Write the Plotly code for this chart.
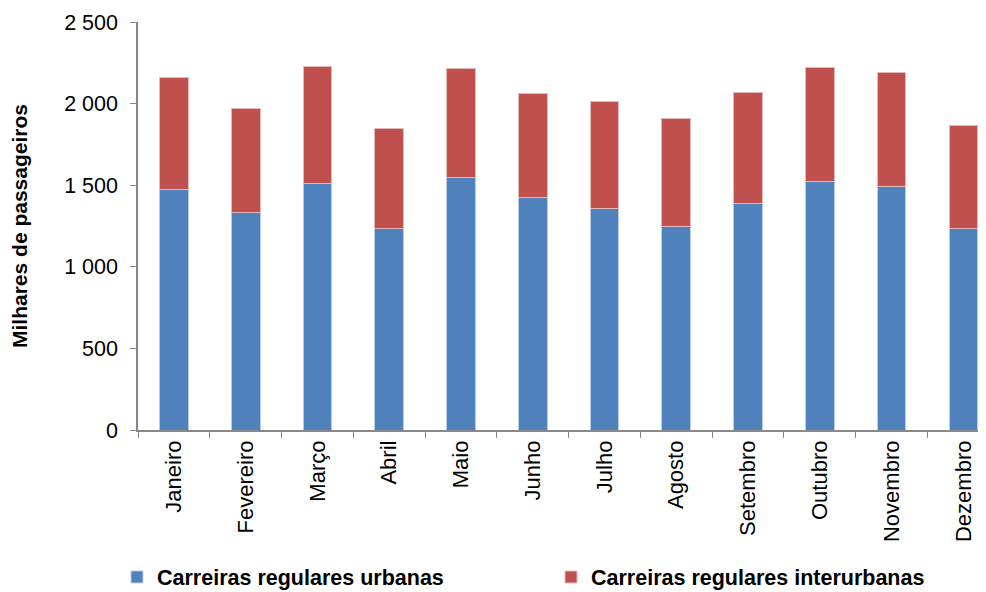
import plotly.graph_objects as go

months = ["Janeiro", "Fevereiro", "Março", "Abril", "Maio", "Junho", "Julho",
          "Agosto", "Setembro", "Outubro", "Novembro", "Dezembro"]
urbanas = [1473, 1332, 1510, 1232, 1547, 1426, 1357, 1248, 1385, 1524, 1491, 1234]
interurbanas = [684, 641, 719, 615, 671, 635, 657, 662, 682, 700, 697, 633]
y_ticks = [0, 500, 1000, 1500, 2000, 2500]

FONT = "Liberation Sans, Arial, sans-serif"
W, H = 978, 584  # page body adds an 8px offset in the 986x592 window

fig = go.Figure()
fig.add_trace(go.Bar(x=months, y=urbanas, name="Carreiras regulares urbanas",
                     marker=dict(color="#4F81BD", line=dict(color="#B9CDE5", width=1)),
                     legend="legend"))
fig.add_trace(go.Bar(x=months, y=interurbanas, name="Carreiras regulares interurbanas",
                     marker=dict(color="#C0504D", line=dict(color="#E6B9B8", width=1)),
                     legend="legend2"))

leg_font = dict(family=FONT, size=21.5, color="black", weight="bold")
leg_y = (H - 569) / H
fig.update_layout(
    barmode="stack",
    bargap=0.6,
    width=W, height=H,
    margin=dict(l=130, r=0, t=14, b=162, autoexpand=False),
    paper_bgcolor="white", plot_bgcolor="white",
    separators=", ",
    font=dict(family=FONT, size=21, color="black"),
    showlegend=True,
    legend=dict(orientation="h", xref="container", yref="container",
                x=109 / W, y=leg_y, xanchor="left", yanchor="middle",
                font=leg_font, itemwidth=30, bgcolor="rgba(0,0,0,0)"),
    legend2=dict(orientation="h", xref="container", yref="container",
                 x=543 / W, y=leg_y, xanchor="left", yanchor="middle",
                 font=leg_font, itemwidth=30, bgcolor="rgba(0,0,0,0)"),
    xaxis=dict(range=[-0.5, 11.315], showline=True, linecolor="#888888", linewidth=1.5,
               ticks="outside", tickson="boundaries", ticklen=6, tickcolor="#888888",
               tickangle=-90, tickfont=dict(family=FONT, size=22, color="black"),
               showgrid=False, automargin=False),
    yaxis=dict(range=[0, 2500], tickvals=y_ticks, tickformat=",d", showline=True,
               linecolor="#888888", linewidth=1.5, ticks="outside", ticklen=6,
               tickcolor="#888888", showgrid=False, zeroline=False, automargin=False,
               tickfont=dict(family=FONT, size=21.5, color="black"),
               ticklabelstandoff=8,
               title=dict(text="Milhares de passageiros", standoff=35,
                          font=dict(family=FONT, size=21, color="black", weight="bold"))),
)

fig.write_html("out.html")
